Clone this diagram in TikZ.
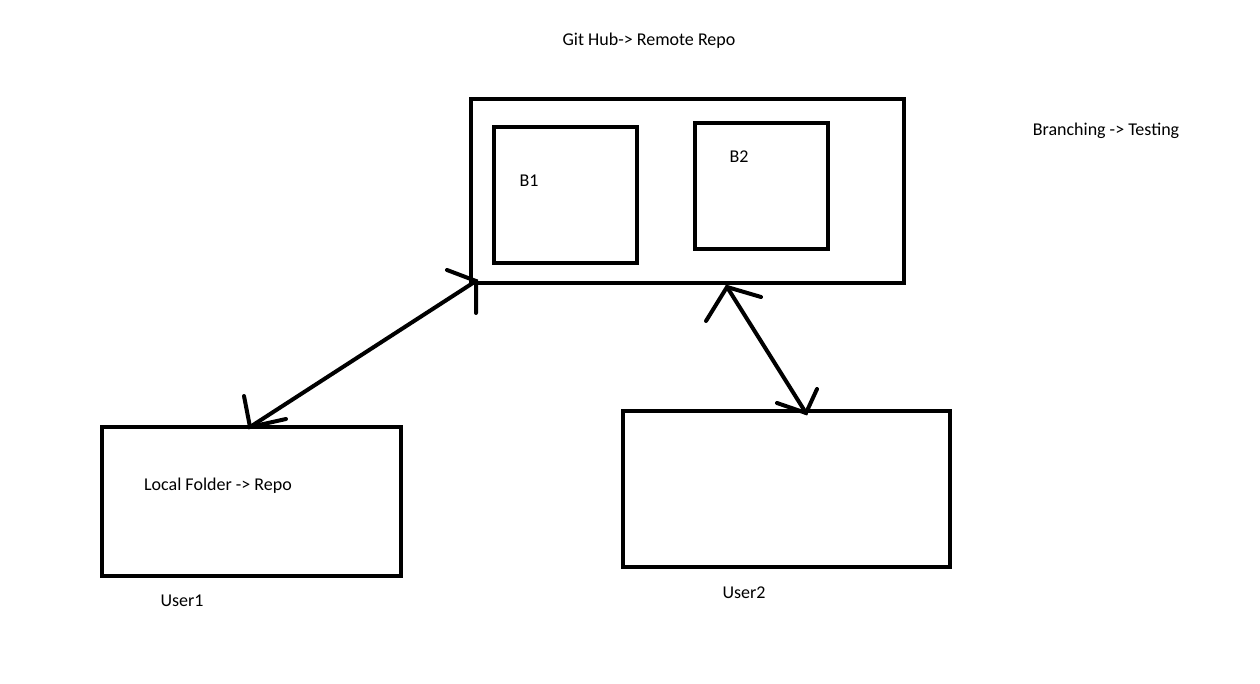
\documentclass[tikz,border=0pt]{standalone}
\usepackage{fontspec}
\setmainfont{Carlito}
\begin{document}
\begin{tikzpicture}[x=1pt,y=-1pt,
  box/.style={draw=black,line width=4pt,line join=miter},
  lbl/.style={font=\fontsize{18}{21}\selectfont,inner sep=0pt},
  conn/.style={draw=black,line width=4pt,line cap=round}]
\useasboundingbox[fill=white] (0,0) rectangle (1260,684);
% boxes
\draw[box] (471,99) rectangle (904,283);
\draw[box] (494,127) rectangle (637,263);
\draw[box] (695,123) rectangle (828,249);
\draw[box] (102,427) rectangle (401,576);
\draw[box] (623,411) rectangle (950,567);
% labels
\node[lbl] (title) at (649,41) {Git Hub-> Remote Repo};
\node[lbl] (branch) at (1106,131) {Branching -> Testing};
\node[lbl] (b1) at (529,181) {B1};
\node[lbl] (b2) at (739,157) {B2};
\node[lbl] (local) at (218,486) {Local Folder -> Repo};
\node[lbl] (u1) at (182,601) {User1};
\node[lbl] (u2) at (744,593) {User2};
% arrow 1 endpoints
\coordinate (a1t) at (476,281);
\coordinate (a1b) at (250,427);
\coordinate (a1t1) at (447,270);
\coordinate (a1t2) at (476,313);
\coordinate (a1b1) at (244,396);
\coordinate (a1b2) at (286,419);
\draw[conn] (a1t) -- (a1b);
\draw[conn] (a1t1) -- (a1t) -- (a1t2);
\draw[conn] (a1b1) -- (a1b) -- (a1b2);
% arrow 2 endpoints
\coordinate (a2t) at (727,287);
\coordinate (a2b) at (806,413);
\coordinate (a2t1) at (706,321);
\coordinate (a2t2) at (761,297);
\coordinate (a2b1) at (777,403);
\coordinate (a2b2) at (817,389);
\draw[conn] (a2t) -- (a2b);
\draw[conn] (a2t1) -- (a2t) -- (a2t2);
\draw[conn] (a2b1) -- (a2b) -- (a2b2);
\end{tikzpicture}
\end{document}
